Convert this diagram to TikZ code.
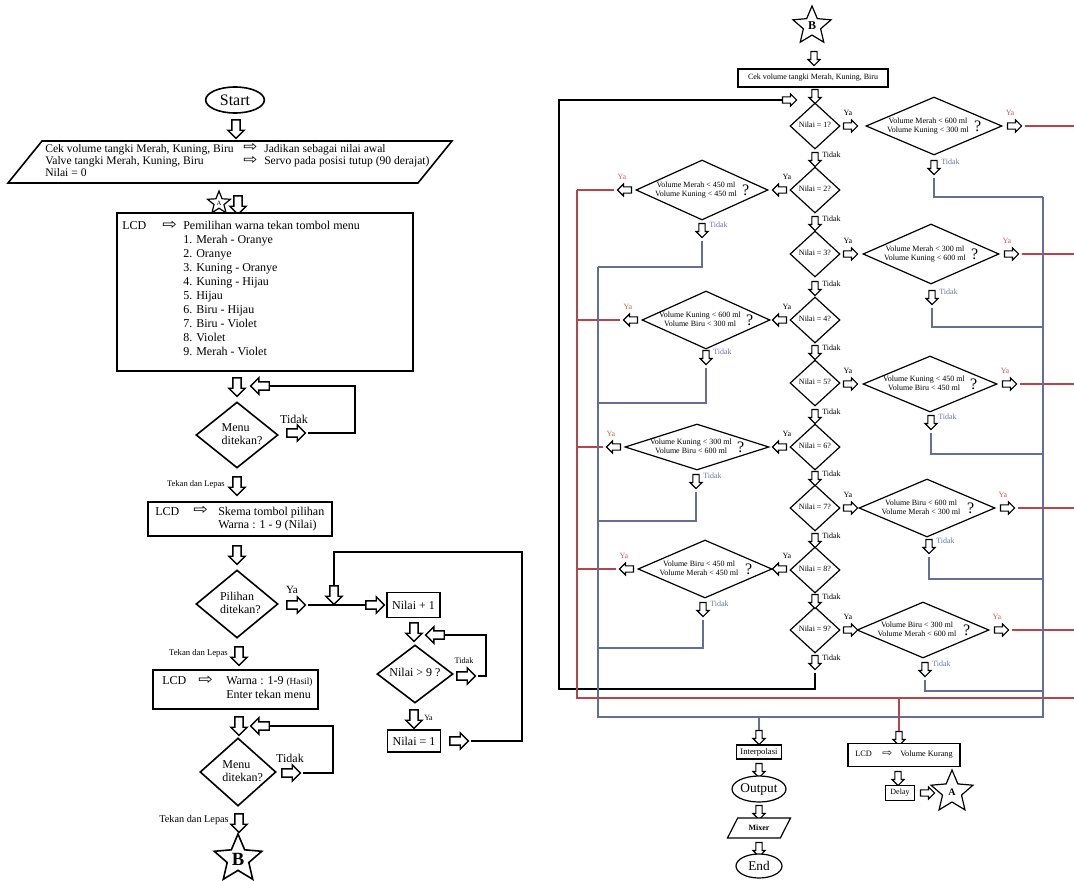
\documentclass[tikz,border=0pt]{standalone}
\usepackage{fontspec}
\usepackage{graphicx}
\setmainfont{Liberation Serif}
\newfontfamily\dvs{DejaVu Sans}
\usetikzlibrary{shapes.geometric,shapes.arrows}
\definecolor{redln}{RGB}{178,70,74}
\definecolor{redtx}{RGB}{200,95,95}
\definecolor{blueln}{RGB}{100,110,150}
\definecolor{bluetx}{RGB}{105,120,170}
\newcommand\rarr{\raisebox{0.05em}{\scalebox{1.45}[1.25]{\dvs ⇨}}}
\newcommand\fsz[2]{\fontsize{#1}{#2}\selectfont}
\newcommand\dt[1]{\smash{\makebox[0pt]{\raisebox{-0.25em}{\begin{tabular}{@{}c@{}}#1\end{tabular}}}}}
\newcommand\dtl[2]{\smash{\makebox[0pt]{\hspace*{#1}\raisebox{-0.25em}{\begin{tabular}{@{}l@{}}#2\end{tabular}}}}}
\newcommand\cq[2]{\smash{\makebox[0pt]{\hspace*{-9pt}\raisebox{-0.25em}{\begin{tabular}{@{}c@{}}#1\\#2\end{tabular}}}}\smash{\rlap{\hspace*{30pt}\raisebox{-4pt}{\fsz{12}{12}?}}}}
\begin{document}
\begin{tikzpicture}[x=0.75pt,y=-0.75pt,
  shp/.style={draw, line width=1.2pt, fill=white, inner sep=0pt},
  shr/.style={draw, line width=0.9pt, fill=white, inner sep=0pt},
  ba/.style={single arrow, draw, fill=white, line width=1.1pt, inner sep=0pt, inner ysep=2.6pt, single arrow head extend=3pt, single arrow head indent=0pt, minimum height=14pt},
  bad/.style={ba, rotate=-90}, bal/.style={ba, rotate=180}, bar/.style={ba},
  sa/.style={single arrow, draw, fill=white, line width=0.85pt, inner sep=0pt, inner ysep=1.9pt, single arrow head extend=2.2pt, single arrow head indent=0pt, minimum height=10.5pt},
  sad/.style={sa, rotate=-90}, sal/.style={sa, rotate=180}, sar/.style={sa},
  lnL/.style={line width=1.2pt, shorten <=1pt},
  blk/.style={line width=1pt, shorten <=2pt},
  redl/.style={draw=redln, line width=0.9pt},
  bluel/.style={draw=blueln, line width=1pt},
  tL/.style={inner sep=0pt, font=\fsz{9}{10.5}},
  tS/.style={inner sep=0pt, font=\fsz{6}{7}},
  dS/.style={shr, diamond, font=\fsz{6}{7.1}},
]
\useasboundingbox (0,0) rectangle (1074,881);
\fill[white] (0,0) rectangle (1074,881);

% ================= LEFT FLOWCHART =================
\node[shp, ellipse, minimum width=44pt, minimum height=19.5pt, font=\fsz{12}{12}] (start) at (235,100) {Start};
\node[bad] (a1) at (236,127) {};
\node[shp, trapezium, trapezium left angle=51, trapezium right angle=129, trapezium stretches body, minimum width=333pt, text height=15.75pt, text depth=15.75pt] (p1) at (230,162) {};
\node[tL, anchor=west, font=\fsz{8.7}{9}] (p1t) at (45,162) {\begin{tabular}{@{}p{148.5pt}@{}p{15.75pt}@{}l@{}}Cek volume tangki Merah, Kuning, Biru & \rarr & Jadikan sebagai nilai awal\\ Valve tangki Merah, Kuning, Biru & \rarr & Servo pada posisi tutup (90 derajat)\\ Nilai = 0 & & \end{tabular}};

\node[shp, line width=0.9pt, star, star points=5, star point ratio=2.3, minimum size=18pt, font=\fsz{5}{6}] (sA) at (219,203) {A};
\node[bad] (a2) at (238,203) {};

\node[shp, minimum width=222pt, minimum height=118.5pt] (lcd1) at (265,292) {};
\node[tL, anchor=west] (lcd1t) at (122,290) {\begin{tabular}{@{}p{30pt}@{}p{15.75pt}@{}l@{}}LCD & \rarr & Pemilihan warna tekan tombol menu\\ && 1. Merah - Oranye\\ && 2. Oranye\\ && 3. Kuning - Oranye\\ && 4. Kuning - Hijau\\ && 5. Hijau\\ && 6. Biru - Hijau\\ && 7. Biru - Violet\\ && 8. Violet\\ && 9. Merah - Violet\end{tabular}};

\node[bad] (a3) at (237,385) {};
\node[bal] (la1) at (262,386) {};
\node[shp, diamond, minimum width=61.5pt, minimum height=49.5pt, font=\fsz{9}{10}] (m1) at (237,435) {\dtl{7.5pt}{Menu\\ditekan?}};
\node[bar] (ra1) at (294,433) {};
\node[tL] (td1) at (294,419) {Tidak};
\coordinate (k1a) at (355,433); \coordinate (k1b) at (355,386);
\draw[lnL] (ra1.tip) -- (k1a) -- (k1b) -- (la1.tail);

\node[bad] (a4) at (237,484) {};
\node[inner sep=0pt, anchor=east, font=\fsz{6.4}{7}] (tl1) at (225,484) {Tekan dan Lepas};
\node[shp, minimum width=138pt, minimum height=25.5pt] (lcd2) at (240,519) {};
\node[tL, anchor=west, font=\fsz{9}{9.75}] (lcd2t) at (155,519) {\begin{tabular}{@{}p{28.5pt}@{}p{18.75pt}@{}l@{}}LCD & \rarr & Skema tombol pilihan\\ && Warna : 1 - 9 (Nilai)\end{tabular}};
\node[bad] (a5) at (237,553) {};

\node[shp, diamond, minimum width=61.5pt, minimum height=51pt, font=\fsz{9}{10}] (pl) at (237,604) {\dtl{5pt}{Pilihan\\ditekan?}};
\node[inner sep=0pt, font=\fsz{8.3}{9}] (ya1) at (292,590) {Ya};
\node[bar] (ra2) at (294,605) {};
\node[bar] (ra3) at (373,605) {};
\draw[lnL] (ra2.tip) -- (ra3.tail);
\node[shp, minimum width=39.75pt, minimum height=18.75pt, font=\fsz{9}{10}] (np1) at (413.5,605) {Nilai + 1};
\node[bad] (da) at (334,593) {};
\node[bad] (a8) at (414,630) {};
\node[bal] (la3) at (437,635) {};
\node[shp, diamond, minimum width=57pt, minimum height=43.5pt, font=\fsz{9}{10}] (n9) at (415,674) {\dt{Nilai > 9 ?}};
\node[bar] (ra5) at (464,676) {};
\node[inner sep=0pt, font=\fsz{6.2}{7}] (td2) at (464,661) {Tidak};
\coordinate (k2a) at (486,676); \coordinate (k2b) at (486,635);
\draw[lnL] (ra5.tip) -- (k2a) -- (k2b) -- (la3.tail);
\node[bad] (a9) at (414,717) {};
\node[inner sep=0pt, anchor=west, font=\fsz{6}{7}] (ya2) at (424,718) {Ya};
\node[shp, minimum width=39.75pt, minimum height=16.5pt, font=\fsz{9}{10}] (n1) at (414,741) {Nilai = 1};
\node[bar] (ra6) at (457,741) {};
\coordinate (k3a) at (522,741); \coordinate (k3b) at (522,552); \coordinate (k3c) at (334,552);
\draw[lnL] (ra6.tip) -- (k3a) -- (k3b) -- (k3c) -- (da.tail);

\node[bad] (a10) at (239,654) {};
\node[inner sep=0pt, anchor=east, font=\fsz{6.5}{7}] (tl2) at (228,653) {Tekan dan Lepas};
\node[shp, minimum width=123.75pt, minimum height=29.25pt] (lcd3) at (235.5,689.5) {};
\node[tL, anchor=west] (lcd3t) at (162,689) {\begin{tabular}{@{}p{27pt}@{}p{21pt}@{}l@{}}LCD & \rarr & Warna : 1-9 {\fsz{7}{8}(Hasil)}\\ && Enter tekan menu\end{tabular}};
\node[bad] (a6) at (239,724) {};
\node[bal] (la2) at (262,726) {};
\node[shp, diamond, minimum width=57pt, minimum height=51pt, font=\fsz{9}{10}] (m2) at (238,772) {\dtl{7pt}{Menu\\ditekan?}};
\node[bar] (ra4) at (289,773) {};
\node[tL] (td3) at (290,758) {Tidak};
\coordinate (k4a) at (333,773); \coordinate (k4b) at (333,726);
\draw[lnL] (ra4.tip) -- (k4a) -- (k4b) -- (la2.tail);
\node[bad] (a7) at (239,821) {};
\node[inner sep=0pt, anchor=east, font=\fsz{7.7}{8}] (tl3) at (229,820) {Tekan dan Lepas};
\node[shp, star, star points=5, star point ratio=2.2, minimum size=37.5pt, font=\bfseries\fsz{14}{14}] (sB) at (238,859) {B};

% ================= RIGHT FLOWCHART =================
\node[shr, star, star points=5, star point ratio=2.2, minimum size=30pt, font=\bfseries\fsz{9}{9}] (sB2) at (812,26) {B};
\node[sad] (ar0) at (814,57) {};
\node[shr, minimum width=112.5pt, minimum height=13.5pt, font=\fsz{6}{7}] (cek) at (813,78) {Cek volume tangki Merah, Kuning, Biru};
\node[sad] (ar1) at (815,95) {};
\node[sar] (lpA) at (788,100) {};

\foreach \k/\dy in {1/126,2/190,3/254,4/320,5/383,6/447,7/508,8/570,9/630}{
  \node[dS, minimum width=37.5pt, minimum height=34.5pt] (D\k) at (815,\dy) {\dt{Nilai = \k?}};
}
\foreach \k/\ty in {1/158,2/222,3/287,4/351,5/415,6/477,7/539,8/600,9/661}{
  \node[sad] (t\k) at (815,\ty) {};
  \node[tS, anchor=west] (tl\k) at (822,\ty-3) {Tidak};
}
% odd: conditions on the right
\foreach \k/\dy/\cx/\hw/\hh/\La/\Lb/\tx/\ty/\by in {
  1/126/934/68/29/{Volume Merah < 600 ml}/{Volume Kuning < 300 ml}/934/166/197,
  3/254/931/68/30/{Volume Merah < 300 ml}/{Volume Kuning < 600 ml}/932/296/327,
  5/384/930/67/28/{Volume Kuning < 450 ml}/{Volume Biru < 450 ml}/931/421/454,
  7/508/927/68/29/{Volume Biru < 600 ml}/{Volume Merah < 300 ml}/929/545/579,
  9/630/923/66/28/{Volume Biru < 300 ml}/{Volume Merah < 600 ml}/925/668/691}{
  \node[dS, minimum width={1.5pt*\hw}, minimum height={1.5pt*\hh}] (C\k) at (\cx,\dy) {\cq{\La}{\Lb}};
  \node[sar] (y\k) at (849,\dy) {};
  \node[tS] (yl\k) at (848,\dy-13) {Ya};
  \node[sar] (r\k) at (\cx+\hw+11,\dy) {};
  \node[tS, text=redtx] (rl\k) at (\cx+\hw+8,\dy-13) {Ya};
  \coordinate (re\k) at (1074,\dy);
  \draw[redl, shorten <=2pt] (r\k.tip) -- (re\k);
  \node[sad] (n\k) at (\tx,\ty) {};
  \node[tS, anchor=west, text=bluetx] (nl\k) at (\tx+7,\ty-4) {Tidak};
  \coordinate (nb\k) at (\tx,\by); \coordinate (nv\k) at (1043,\by);
  \draw[bluel, shorten <=2pt] (n\k.tip) -- (nb\k) -- (nv\k);
}
% even: conditions on the left
\foreach \k/\dy/\cx/\hw/\hh/\La/\Lb/\tx/\ty/\by in {
  2/190/702/66/30/{Volume Merah < 450 ml}/{Volume Kuning < 450 ml}/702/229/267,
  4/320/706/64/29/{Volume Kuning < 600 ml}/{Volume Biru < 300 ml}/706/356/403,
  6/447/697/72/23/{Volume Kuning < 300 ml}/{Volume Biru < 600 ml}/696/480/521,
  8/569/705/67/29/{Volume Biru < 450 ml}/{Volume Merah < 450 ml}/703/608/648}{
  \node[dS, minimum width={1.5pt*\hw}, minimum height={1.5pt*\hh}] (C\k) at (\cx,\dy) {\cq{\La}{\Lb}};
  \node[sal] (y\k) at (781,\dy) {};
  \node[tS] (yl\k) at (787,\dy-13) {Ya};
  \node[sal] (r\k) at (\cx-\hw-10,\dy) {};
  \node[tS, text=redtx] (rl\k) at (\cx-\hw-14,\dy-13) {Ya};
  \coordinate (re\k) at (577,\dy);
  \draw[redl, shorten <=2pt] (r\k.tip) -- (re\k);
  \node[sad] (n\k) at (\tx,\ty) {};
  \node[tS, anchor=west, text=bluetx] (nl\k) at (\tx+7,\ty-4) {Tidak};
  \coordinate (nb\k) at (\tx,\by); \coordinate (nv\k) at (598,\by);
  \draw[bluel, shorten <=2pt] (n\k.tip) -- (nb\k) -- (nv\k);
}
% loops back
\coordinate (bk1) at (815,689); \coordinate (bk2) at (559,689); \coordinate (bk3) at (559,100);
\draw[blk] (t9.tip) -- (bk1) -- (bk2) -- (bk3) -- (lpA.tail);
\coordinate (rb1) at (577,698); \coordinate (rb2) at (1074,698);
\draw[redl] (re2) -- (rb1) -- (rb2);
\coordinate (bb1) at (598,717); \coordinate (bb2) at (1043,717);
\draw[bluel] (nv2) -- (bb1) -- (bb2) -- (nv1);

% bottom: volume short
\coordinate (rd) at (899,698);
\node[sad] (ard) at (899,737) {};
\draw[redl] (rd) -- (ard.tail);
\node[shr, minimum width=84pt, minimum height=17.25pt] (lcdv) at (904,755) {};
\node[tS, anchor=west, font=\fsz{6.2}{7}] (lcdvt) at (855,755) {\begin{tabular}{@{}p{20.25pt}@{}p{13.5pt}@{}l@{}}LCD & \rarr & Volume Kurang\end{tabular}};
\node[sad] (ar2) at (898,777) {};
\node[shr, minimum width=21.75pt, minimum height=11.25pt, font=\fsz{6}{7}] (dly) at (900,793) {Delay};
\node[sar] (ar3) at (926,793) {};
\node[shr, star, star points=5, star point ratio=2.2, minimum size=33pt, font=\bfseries\fsz{7.5}{8}] (sA2) at (952,792) {A};

% bottom: output
\coordinate (bd) at (759,717);
\node[sad] (abd) at (759,736) {};
\draw[bluel] (bd) -- (abd.tail);
\node[shr, minimum width=33.75pt, minimum height=10.5pt, font=\fsz{6.5}{7}] (itp) at (759,752) {Interpolasi};
\node[sad] (ab2) at (759,769) {};
\node[shr, ellipse, minimum width=40.5pt, minimum height=19.5pt, font=\fsz{10}{10}] (out) at (759,789) {Output};
\node[sad] (ab3) at (759,811) {};
\node[shr, trapezium, trapezium left angle=63, trapezium right angle=117, trapezium stretches body, minimum width=47.25pt, text height=7.5pt, text depth=7.5pt, font=\bfseries\fsz{6}{7}] (mix) at (759,828) {\raisebox{-2.1pt}{Mixer}};
\node[sad] (ab4) at (759,848) {};
\node[shr, ellipse, minimum width=34.5pt, minimum height=18pt, font=\fsz{10}{10}] (end) at (759,866) {End};
\end{tikzpicture}
\end{document}
